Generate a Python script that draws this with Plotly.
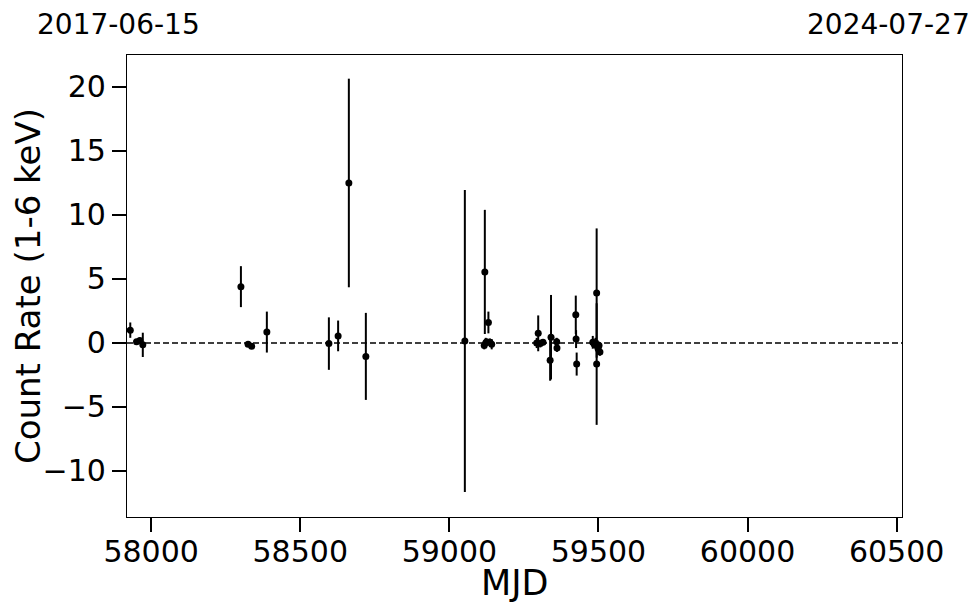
import plotly.graph_objects as go

# Observations: MJD, count rate (1-6 keV), 1-sigma error
mjd = [57930, 57951, 57962, 57972, 58301, 58325, 58337, 58388, 58596, 58627,
       58663, 58720, 59052, 59117, 59119, 59122, 59125, 59131, 59136, 59142,
       59293, 59298, 59305, 59314, 59338, 59341, 59360, 59361, 59424, 59425,
       59427, 59481, 59486, 59490, 59494, 59494, 59497, 59499, 59502, 59505]
rate = [1.0, 0.1, 0.2, -0.15, 4.4, -0.1, -0.25, 0.85, -0.05, 0.55,
        12.5, -1.05, 0.15, -0.2, 5.55, 0.0, 0.1, 1.6, 0.05, -0.1,
        0.0, 0.75, -0.05, 0.05, -1.35, 0.45, 0.1, -0.4, 2.2, 0.3,
        -1.65, 0.05, -0.1, 0.0, 3.9, -1.65, -0.3, -0.45, -0.2, -0.7]
err = [0.6, 0.15, 0.2, 0.95, 1.6, 0.15, 0.15, 1.6, 2.05, 1.2,
       8.15, 3.4, 11.8, 0.3, 4.85, 0.4, 0.2, 0.85, 0.3, 0.4,
       0.4, 1.4, 0.3, 0.2, 1.6, 3.3, 0.3, 0.3, 1.5, 0.7,
       0.9, 0.5, 0.3, 0.4, 5.05, 4.75, 0.5, 0.4, 0.3, 0.3]

x_range = [57919, 60518]
y_range = [-13.6, 22.5]
x_ticks = [58000, 58500, 59000, 59500, 60000, 60500]
start_label = "2017-06-15"
end_label = "2024-07-27"
x_title = "MJD"
y_title = "Count Rate (1-6 keV)"

FONT = "DejaVu Sans"
PLOT_W = 775  # plot-area width in pixels

fig = go.Figure()
fig.add_trace(go.Scatter(
    x=mjd, y=rate, mode="markers",
    marker=dict(color="black", size=7),
    error_y=dict(type="data", array=err, visible=True, color="black",
                 thickness=2, width=0),
    showlegend=False,
))

fig.add_shape(type="line", xref="paper", x0=0, x1=1, yref="y", y0=0, y1=0,
              line=dict(color="black", width=1.5, dash="6px,3px"))

for txt, px in [(start_label, 118), (end_label, 888)]:
    fig.add_annotation(text=txt, xref="paper", yref="paper",
                       x=(px - 127) / PLOT_W, y=1, yshift=31, showarrow=False,
                       xanchor="center", yanchor="middle",
                       font=dict(family=FONT, size=28, color="black"))

fig.add_annotation(text=x_title, xref="paper", yref="paper", x=0.5, y=0,
                   yshift=-66, showarrow=False, xanchor="center", yanchor="middle",
                   font=dict(family=FONT, size=35, color="black"))

fig.update_layout(
    width=980, height=613,
    margin=dict(l=119, r=86, t=47, b=104),
    paper_bgcolor="white", plot_bgcolor="white",
    font=dict(family=FONT, color="black"),
)
fig.update_xaxes(
    range=x_range, tickvals=x_ticks, tickformat="d", ticks="outside",
    ticklen=14, tickwidth=2, automargin=False, ticklabelstandoff=-6,
    tickcolor="black", tickfont=dict(size=30, family=FONT),
    showline=True, linecolor="black", linewidth=1.2, mirror=True,
    showgrid=False, zeroline=False,
)
fig.update_yaxes(
    range=y_range, dtick=5, tick0=0, ticks="outside", ticklen=14, tickwidth=2,
    automargin=False,
    tickcolor="black", tickfont=dict(size=30, family=FONT),
    showline=True, linecolor="black", linewidth=1.2, mirror=True,
    showgrid=False, zeroline=False,
    title=dict(text=y_title, font=dict(size=34, family=FONT), standoff=6),
)

fig.write_html("out.html")
